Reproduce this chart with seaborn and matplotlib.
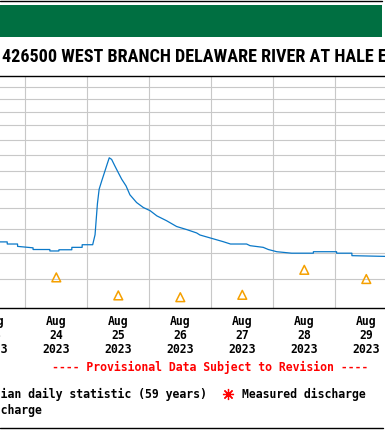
import matplotlib
matplotlib.use("Agg")
import matplotlib.pyplot as plt
import matplotlib.dates as mdates
from matplotlib import font_manager
from matplotlib.ticker import FixedLocator, NullLocator, NullFormatter
from matplotlib.patches import Rectangle
from matplotlib.lines import Line2D
import seaborn as sns
import pandas as pd

# ---------------- data ----------------
title_prefix = "USGS 01"
title_text = "USGS 01426500 WEST BRANCH DELAWARE RIVER AT HALE EDDY, NY"
title_visible = "426500 WEST BRANCH DELAWARE RIVER AT HALE "

times = [
    "2023-08-23 14:00", "2023-08-23 17:00", "2023-08-23 17:01", "2023-08-23 21:00",
    "2023-08-23 21:01", "2023-08-24 03:00", "2023-08-24 03:01", "2023-08-24 09:30",
    "2023-08-24 09:31", "2023-08-24 13:00", "2023-08-24 13:01", "2023-08-24 18:00",
    "2023-08-24 18:01", "2023-08-24 22:00", "2023-08-24 22:01", "2023-08-25 02:05",
    "2023-08-25 03:00", "2023-08-25 03:55", "2023-08-25 04:35", "2023-08-25 05:35",
    "2023-08-25 06:50", "2023-08-25 07:40", "2023-08-25 08:30", "2023-08-25 09:25",
    "2023-08-25 10:40", "2023-08-25 12:00", "2023-08-25 13:20", "2023-08-25 15:00",
    "2023-08-25 16:30", "2023-08-25 19:05", "2023-08-25 21:40", "2023-08-26 00:20",
    "2023-08-26 02:55", "2023-08-26 06:40", "2023-08-26 10:35", "2023-08-26 14:30",
    "2023-08-26 18:20", "2023-08-26 19:35", "2023-08-27 00:50", "2023-08-27 04:35",
    "2023-08-27 07:25", "2023-08-27 13:40", "2023-08-27 15:00", "2023-08-27 20:05",
    "2023-08-27 22:05", "2023-08-28 01:20", "2023-08-28 07:05", "2023-08-28 15:30",
    "2023-08-28 15:31", "2023-08-29 00:30", "2023-08-29 00:31", "2023-08-29 06:25",
    "2023-08-29 06:26", "2023-08-29 19:30",
]
discharge = [
    94.5, 94.5, 93.6, 93.6,
    92.6, 92.0, 91.3, 91.3,
    90.7, 90.7, 91.2, 91.2,
    92.2, 92.2, 93.3, 93.3,
    97.6, 112.3, 119.9, 124.5,
    130.2, 134.2, 138.2, 137.2,
    133.2, 129.2, 125.4, 121.7,
    116.9, 112.9, 110.4, 108.8,
    106.3, 104.0, 101.3, 99.9,
    98.4, 97.5, 95.8, 94.6,
    93.6, 93.6, 92.9, 92.2,
    91.3, 90.4, 89.8, 89.8,
    90.4, 90.4, 89.8, 89.8,
    88.8, 88.5,
]

median_times = ["2023-08-24 12:00", "2023-08-25 12:00", "2023-08-26 12:00",
                "2023-08-27 12:00", "2023-08-28 12:00", "2023-08-29 12:00"]
median_values = [80.5, 74.2, 73.6, 74.4, 83.3, 79.9]

y_grid = [80, 90, 100, 110, 120, 130, 140, 150, 160, 170, 180, 190]
x_start, x_end = "2023-08-23 00:00", "2023-08-30 00:00"

provisional = "---- Provisional Data Subject to Revision ----"
legend_median = "Median daily statistic (59 years)"
legend_median_cut = "Med"
legend_measured = "Measured discharge"
legend_discharge = "Discharge"
legend_discharge_cut = "Dis"

# ---------------- style ----------------
W, H = 385, 430
def fx(x): return x / W
def fy(y): return 1 - y / H

sns.set_style("white")
plt.rcParams["text.color"] = "black"
plt.rcParams["xtick.color"] = "black"
mono = "DejaVu Sans Mono"
blue = "#0a78c8"
orange = "#f5a000"
green = "#006f41"
grid_c = "#c8c8c8"

fig = plt.figure(figsize=(W / 100, H / 100), dpi=100)
ax = fig.add_axes([fx(-36.7), fy(308.3), 434 / W, (308.3 - 76) / H])

df = pd.DataFrame({"time": pd.to_datetime(times), "discharge": discharge})
med = pd.DataFrame({"time": pd.to_datetime(median_times), "median": median_values})

sns.lineplot(data=df, x="time", y="discharge", ax=ax, color=blue, lw=0.9, zorder=3)
sns.scatterplot(data=med, x="time", y="median", ax=ax, marker="^", s=40,
                facecolor="none", edgecolor=orange, linewidth=1.1, zorder=4)

ax.set_yscale("log")
ax.set_ylim(70, 200)
ax.yaxis.set_major_locator(FixedLocator(y_grid))
ax.yaxis.set_minor_locator(NullLocator())
ax.yaxis.set_minor_formatter(NullFormatter())
ax.tick_params(axis="y", left=False, labelleft=False)

ax.set_xlim(pd.Timestamp(x_start), pd.Timestamp(x_end))
ax.xaxis.set_major_locator(mdates.HourLocator(byhour=[12]))
ax.xaxis.set_major_formatter(mdates.DateFormatter("%b\n%d\n%Y"))
ax.xaxis.set_minor_locator(mdates.DayLocator())
ax.tick_params(axis="x", which="both", length=0, pad=5, colors="black")
for lab in ax.get_xticklabels():
    lab.set_fontfamily(mono)
    lab.set_fontweight("bold")
    lab.set_fontsize(8.3)
    lab.set_linespacing(1.1)
    lab.set_color("black")

ax.grid(False)
ax.grid(True, axis="y", which="major", color=grid_c, lw=0.8)
ax.grid(True, axis="x", which="minor", color=grid_c, lw=0.8)
ax.set_axisbelow(True)
ax.set_xlabel("")
ax.set_ylabel("")
for s in ["left", "right"]:
    ax.spines[s].set_visible(False)
for s in ["top", "bottom"]:
    ax.spines[s].set_color("black")
    ax.spines[s].set_linewidth(1.0)

# header decorations
fig.add_artist(Line2D([0, fx(382)], [fy(0.7), fy(0.7)], color="black", lw=1.0))
fig.add_artist(Rectangle((0, fy(36.7)), fx(381.7), (36.7 - 5) / H,
                         facecolor=green, edgecolor="none"))
fig.add_artist(Line2D([0, fx(383)], [fy(428.3), fy(428.3)], color="black", lw=1.0))

renderer = fig.canvas.get_renderer()
def width_px(s, **kw):
    t = fig.text(0, 0, s, **kw)
    w = t.get_window_extent(renderer).width
    t.remove()
    return w

installed = {f.name for f in font_manager.fontManager.ttflist}
title_family = "Liberation Sans"
for cand in ["Liberation Sans Narrow", "Arial Narrow", "Roboto Condensed",
             "Open Sans Condensed", "Liberation Sans"]:
    if cand in installed:
        title_family = cand
        break
title_kw = dict(family=title_family, weight="bold", fontsize=13.6)
# fit the font size so the visible part of the title spans the reference width
wv = width_px(title_visible, **title_kw)
title_kw["fontsize"] = 13.6 * 377.0 / wv
pw = width_px(title_prefix, **title_kw)
fig.text(fx(1.7 - pw), fy(61.7), title_text, va="baseline", ha="left",
         color="black", **title_kw)

mono_kw = dict(family=mono, weight="bold", fontsize=8.3)
fig.text(fx(210.5), fy(367), provisional, color="red", ha="center", va="center", **mono_kw)

cw = width_px(legend_median_cut, **mono_kw)
fig.text(fx(0.7) - cw / W, fy(394), legend_median, ha="left", va="center",
         color="black", **mono_kw)
fig.add_artist(Line2D([fx(227.5)], [fy(394)], marker=(8, 2, 0), markersize=8,
                      mew=0.9, color="red", linestyle="none"))
fig.text(fx(242.3), fy(394), legend_measured, ha="left", va="center",
         color="black", **mono_kw)
cw2 = width_px(legend_discharge_cut, **mono_kw)
fig.text(fx(0.7) - cw2 / W, fy(410), legend_discharge, ha="left", va="center",
         color="black", **mono_kw)

fig.savefig("out.png", dpi=100)
